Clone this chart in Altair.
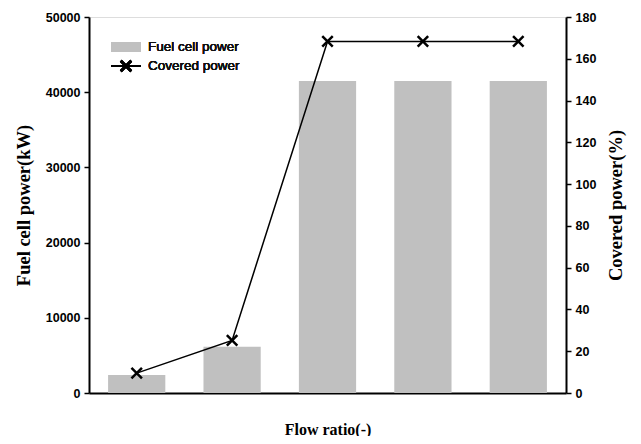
import altair as alt
import pandas as pd

categories = ["1", "2", "3", "4", "5"]
fuel_cell_power = [2400, 6150, 41500, 41500, 41500]
covered_power = [9.5, 25.2, 168.3, 168.3, 168.3]

df = pd.DataFrame({"cat": categories, "fc": fuel_cell_power, "cov": covered_power})

x_enc = alt.X(
    "cat:N",
    sort=categories,
    scale=alt.Scale(paddingInner=0.4, paddingOuter=0.2),
    axis=alt.Axis(
        title="Flow ratio(-)", labels=False, ticks=False, domain=True,
        domainColor="black", domainWidth=2,
        titleFont="Liberation Serif", titleFontSize=16, titleFontWeight="bold",
        titleColor="black", titlePadding=28,
    ),
)

bars = alt.Chart(df).mark_bar(color="#c0c0c0").encode(
    x=x_enc,
    y=alt.Y(
        "fc:Q",
        scale=alt.Scale(domain=[0, 50000], nice=False),
        axis=alt.Axis(
            title="Fuel cell power(kW)", values=[0, 10000, 20000, 30000, 40000, 50000],
            format="d",
            grid=False, orient="left", domainColor="black", domainWidth=2,
            tickColor="black", tickWidth=1.5, tickSize=5, labelPadding=4,
            labelFont="Liberation Sans", labelFontWeight="bold", labelFontSize=12.5,
            labelColor="black",
            titleFont="Liberation Serif", titleFontSize=18.5, titleFontWeight="bold",
            titleColor="black", titlePadding=12,
        ),
    ),
)

y_right = alt.Y(
    "cov:Q",
    scale=alt.Scale(domain=[0, 180], nice=False),
    axis=alt.Axis(
        title="Covered power(%)", values=list(range(0, 181, 20)), format="d",
        grid=False, orient="right", domainColor="black", domainWidth=2,
        tickColor="black", tickWidth=1.5, tickSize=5, labelPadding=4,
        labelFont="Liberation Sans", labelFontWeight="bold", labelFontSize=12.5,
        labelColor="black",
        titleFont="Liberation Serif", titleFontSize=18.5, titleFontWeight="bold",
        titleColor="black", titlePadding=11, titleAngle=270, titleBaseline="top",
    ),
)

line = alt.Chart(df).mark_line(color="black", strokeWidth=1.5).encode(x=x_enc, y=y_right)
pts = alt.Chart(df).mark_point(
    shape="M-1,-1L1,1M-1,1L1,-1", size=110, filled=False, color="black",
    strokeWidth=2.5, opacity=1,
).encode(x=x_enc, y=y_right)

# Legend
leg_rect = alt.Chart(df).mark_rect(color="#c0c0c0").encode(
    x=alt.value(22), x2=alt.value(52), y=alt.value(25), y2=alt.value(35)
)
leg_line = alt.Chart(df).mark_rule(color="black", strokeWidth=1.5).encode(
    x=alt.value(22), x2=alt.value(52), y=alt.value(49)
)
leg_pt = alt.Chart(df).mark_point(
    shape="M-1,-1L1,1M-1,1L1,-1", size=110, filled=False, color="black",
    strokeWidth=2.5, opacity=1,
).encode(x=alt.value(37), y=alt.value(49))
leg_t1 = alt.Chart(df).mark_text(
    text="Fuel cell power", align="left", baseline="middle",
    font="Liberation Sans", fontSize=13.5, fontWeight="normal", color="#111111",
).encode(x=alt.value(59), y=alt.value(30))
leg_t2 = alt.Chart(df).mark_text(
    text="Covered power", align="left", baseline="middle",
    font="Liberation Sans", fontSize=13.5, fontWeight="normal", color="#111111",
).encode(x=alt.value(59), y=alt.value(49))

right_layer = alt.layer(line, pts, leg_rect, leg_line, leg_pt, leg_t1, leg_t2)

chart = alt.layer(bars, right_layer).resolve_scale(y="independent").properties(
    width=477, height=376,
    autosize=alt.AutoSizeParams(type="none"),
    padding={"left": 81, "top": 9, "right": 67, "bottom": 43},
).configure_view(stroke="black", strokeWidth=2).configure(background="white")

chart.save("out.html", embed_options={"renderer": "svg", "actions": False})
